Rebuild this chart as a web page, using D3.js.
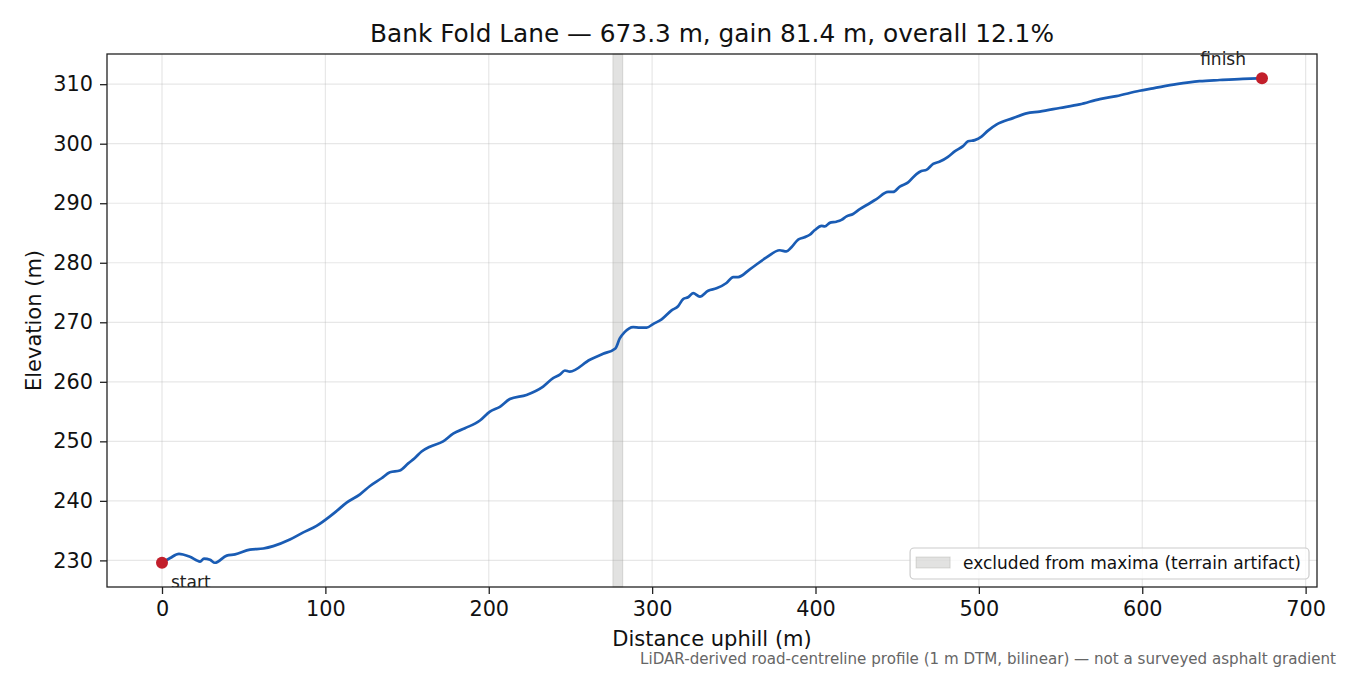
<!DOCTYPE html>
<html>
<head>
<meta charset="utf-8">
<script src="https://cdn.jsdelivr.net/npm/d3@7"></script>
<style>
  body { margin: 0; background: #fff; }
  svg { display: block; font-family: "DejaVu Sans", sans-serif; }
</style>
</head>
<body>
<svg id="chart" width="1350" height="675"></svg>
<script>
// profile samples, distance (m) and elevation (m)
const distance = [
  0, 5, 10.4, 17.1, 23.3, 25.7, 29.4, 32.4, 39.6, 44.7,
  53.8, 62, 68.1, 78.3, 86.5, 94.6, 102.8, 106.9, 113, 121.2,
  127.3, 134.4, 139.5, 145.6, 150.7, 154.8, 158.9, 164, 172.1, 178.2,
  185.4, 194.6, 200.7, 206.8, 212.9, 223.1, 233.3, 239.4, 243.5, 246.6,
  249.6, 261.9, 270, 277.5, 280.2, 283, 288.4, 292.5, 296.6, 300.6,
  305.8, 311.9, 315.9, 319, 322, 325.1, 329.2, 334.3, 339.4, 345.5,
  349.6, 352.6, 359.8, 370, 378.1, 382.2, 385.3, 389.4, 392.4, 396.5,
  399.6, 403.7, 405.7, 408.7, 412.8, 415.9, 419, 423, 427.1, 433.2,
  437.3, 444.4, 447.5, 451.6, 456.7, 461.8, 464.8, 467.9, 472, 476.1,
  481.1, 485.2, 490.3, 493.4, 497.5, 501.6, 505.6, 510.7, 520.9, 529.1,
  537.2, 549.5, 561.7, 574, 584.2, 598.4, 606.6, 620.9, 635.1, 647.4,
  661.6, 673.3
]
const elevation = [
  229.6, 230.4, 231.1, 230.6, 229.8, 230.3, 230.1, 229.6, 230.8, 231.0,
  231.8, 232.0, 232.4, 233.5, 234.7, 235.8, 237.4, 238.3, 239.7, 241.1,
  242.5, 243.8, 244.8, 245.1, 246.3, 247.2, 248.3, 249.1, 250.0, 251.3,
  252.2, 253.5, 255.0, 255.8, 257.1, 257.8, 259.2, 260.6, 261.2, 261.9,
  261.7, 263.7, 264.7, 265.6, 267.3, 268.3, 269.2, 269.1, 269.1, 269.7,
  270.5, 272.0, 272.7, 273.9, 274.2, 274.9, 274.3, 275.3, 275.7, 276.6,
  277.6, 277.6, 278.9, 280.9, 282.1, 281.9, 282.6, 283.9, 284.2, 284.7,
  285.5, 286.2, 286.1, 286.7, 286.9, 287.2, 287.8, 288.2, 289.0, 290.0,
  290.7, 291.9, 291.9, 292.8, 293.5, 294.9, 295.4, 295.6, 296.6, 297.0,
  297.8, 298.7, 299.6, 300.4, 300.6, 301.2, 302.2, 303.2, 304.3, 305.1,
  305.4, 306.0, 306.6, 307.5, 308.0, 308.9, 309.3, 310.0, 310.5, 310.7,
  310.9, 311.0
]
const excluded = [276, 282]
const xTicks = [0, 100, 200, 300, 400, 500, 600, 700]
const yTicks = [230, 240, 250, 260, 270, 280, 290, 300, 310]
const title = "Bank Fold Lane \u2014 673.3 m, gain 81.4 m, overall 12.1%"
const legendLabel = "excluded from maxima (terrain artifact)"
const footnote = "LiDAR-derived road-centreline profile (1 m DTM, bilinear) \u2014 not a surveyed asphalt gradient"

const margin = { top: 54, right: 33, bottom: 88, left: 107 },
  width = 1350 - margin.left - margin.right,
  height = 675 - margin.top - margin.bottom

const data = distance.map((d, i) => ({ d: d, e: elevation[i] }))

// matplotlib-like 5% padding
const xExt = d3.extent(distance), yExt = d3.extent(elevation)
const xPad = (xExt[1] - xExt[0]) * 0.05, yPad = (yExt[1] - yExt[0]) * 0.05
const x = d3.scaleLinear().domain([xExt[0] - xPad, xExt[1] + xPad]).range([0, width])
const y = d3.scaleLinear().domain([yExt[0] - yPad, yExt[1] + yPad]).range([height, 0])

const svg = d3.select("#chart")
const g = svg.append("g").attr("transform", `translate(${margin.left},${margin.top})`)

g.append("defs").append("clipPath").attr("id", "plot-clip")
  .append("rect").attr("width", width).attr("height", height)

// grid
g.append("g").selectAll("line").data(xTicks).join("line")
  .attr("x1", d => x(d)).attr("x2", d => x(d))
  .attr("y1", 0).attr("y2", height)
  .attr("stroke", "#b0b0b0").attr("stroke-opacity", 0.3).attr("stroke-width", 1.2)
g.append("g").selectAll("line").data(yTicks).join("line")
  .attr("x1", 0).attr("x2", width)
  .attr("y1", d => y(d)).attr("y2", d => y(d))
  .attr("stroke", "#b0b0b0").attr("stroke-opacity", 0.3).attr("stroke-width", 1.2)

// excluded span
g.append("rect")
  .attr("x", x(excluded[0])).attr("width", x(excluded[1]) - x(excluded[0]))
  .attr("y", 0).attr("height", height)
  .attr("fill", "#a0a09a").attr("fill-opacity", 0.3)
  .attr("stroke", "#a0a09a").attr("stroke-opacity", 0.35).attr("stroke-width", 1)

// profile line
const line = d3.line().x(d => x(d.d)).y(d => y(d.e)).curve(d3.curveMonotoneX)
g.append("path").datum(data)
  .attr("clip-path", "url(#plot-clip)")
  .attr("fill", "none").attr("stroke", "#1a5cb4")
  .attr("stroke-width", 2.7).attr("stroke-linejoin", "round")
  .attr("d", line)

// endpoints
const first = data[0], last = data[data.length - 1]
g.selectAll("circle.end").data([first, last]).join("circle")
  .attr("class", "end")
  .attr("cx", d => x(d.d)).attr("cy", d => y(d.e)).attr("r", 6)
  .attr("fill", "#c21f2b")

g.append("text")
  .attr("clip-path", "url(#plot-clip)")
  .attr("x", x(first.d) + 9).attr("y", y(first.e) + 25)
  .attr("font-size", 17).attr("fill", "#222")
  .text("start")
g.append("text")
  .attr("x", x(last.d) - 16).attr("y", y(last.e) - 13)
  .attr("text-anchor", "end")
  .attr("font-size", 17).attr("fill", "#222")
  .text("finish")

// axes
const xAxis = g.append("g").attr("transform", `translate(0,${height})`)
  .call(d3.axisBottom(x).tickValues(xTicks).tickSize(7).tickPadding(7).tickFormat(d3.format("d")))
const yAxis = g.append("g")
  .call(d3.axisLeft(y).tickValues(yTicks).tickSize(7).tickPadding(7).tickFormat(d3.format("d")))
;[xAxis, yAxis].forEach(a => {
  a.select(".domain").remove()
  a.selectAll("line").attr("stroke", "#222").attr("stroke-width", 1.3)
  a.selectAll("text").attr("font-size", 20.8).attr("fill", "#111")
    .attr("font-family", "DejaVu Sans")
})

// spines
g.append("rect").attr("width", width).attr("height", height)
  .attr("fill", "none").attr("stroke", "#222").attr("stroke-width", 1.3)

// legend
const legend = g.append("g")
const lgText = legend.append("text")
  .attr("font-size", 17).attr("fill", "#111")
  .text(legendLabel)
const tw = lgText.node().getComputedTextLength()
const lgW = tw + 61, lgH = 31
const lgX = width - 8 - lgW, lgY = height - 8 - lgH
legend.insert("rect", "text")
  .attr("x", lgX).attr("y", lgY).attr("width", lgW).attr("height", lgH)
  .attr("rx", 4).attr("fill", "#fff").attr("fill-opacity", 0.8)
  .attr("stroke", "#ccc").attr("stroke-width", 1.2)
legend.insert("rect", "text")
  .attr("x", lgX + 6).attr("y", lgY + 9).attr("width", 34).attr("height", 11)
  .attr("fill", "#a0a09a").attr("fill-opacity", 0.3)
  .attr("stroke", "#a0a09a").attr("stroke-opacity", 0.35)
lgText.attr("x", lgX + 53).attr("y", lgY + 21)

// labels
svg.append("text")
  .attr("x", margin.left + width / 2).attr("y", 42)
  .attr("text-anchor", "middle").attr("font-size", 24.8).attr("fill", "#111")
  .text(title)
svg.append("text")
  .attr("x", margin.left + width / 2).attr("y", 646)
  .attr("text-anchor", "middle").attr("font-size", 21).attr("fill", "#111")
  .text("Distance uphill (m)")
svg.append("text")
  .attr("transform", `translate(41,${margin.top + height / 2}) rotate(-90)`)
  .attr("text-anchor", "middle").attr("font-size", 21).attr("fill", "#111")
  .text("Elevation (m)")
svg.append("text")
  .attr("x", 1336).attr("y", 664)
  .attr("text-anchor", "end").attr("font-size", 15.1).attr("fill", "#666")
  .text(footnote)
</script>
</body>
</html>
